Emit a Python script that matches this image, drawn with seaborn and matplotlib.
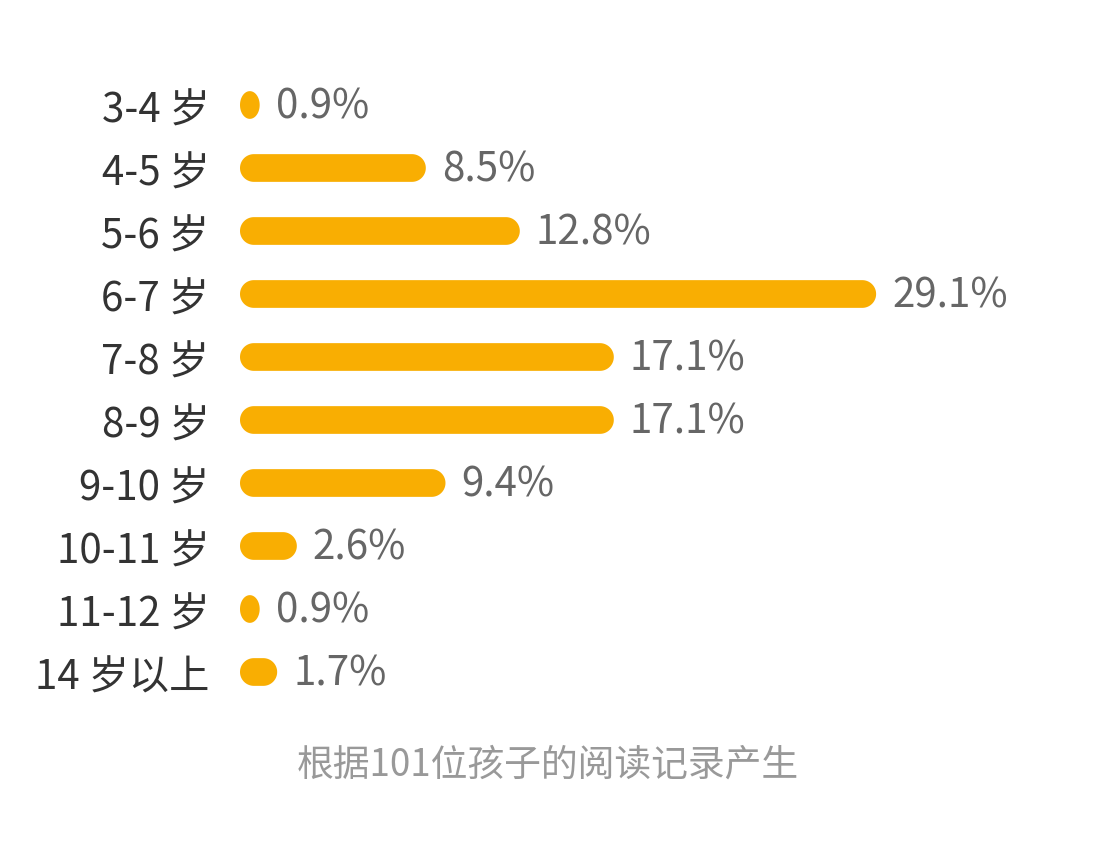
import matplotlib
matplotlib.use('Agg')
import matplotlib.pyplot as plt
import matplotlib.transforms as mtransforms
from matplotlib.patches import PathPatch
from matplotlib.path import Path
import numpy as np
import seaborn as sns
import pandas as pd

# data
ages = ['3-4 岁', '4-5 岁', '5-6 岁', '6-7 岁', '7-8 岁', '8-9 岁',
        '9-10 岁', '10-11 岁', '11-12 岁', '14 岁以上']
shares = [0.9, 8.5, 12.8, 29.1, 17.1, 17.1, 9.4, 2.6, 0.9, 1.7]
footer = '根据101位孩子的阅读记录产生'

df = pd.DataFrame({'age': ages, 'share': shares})

sns.set_theme(style='white')
plt.rcParams['font.family'] = ['Noto Sans CJK SC', 'DejaVu Sans']

W, H = 1099, 848
fig = plt.figure(figsize=(W / 100, H / 100), dpi=100)
ax_left, ax_w = 240, 800
ax_top, ax_bot = 73.5, 703.5
ax = fig.add_axes([ax_left / W, (H - ax_bot) / H, ax_w / W, (ax_bot - ax_top) / H])

bar_color = '#F9AE02'
sns.barplot(data=df, y='age', x='share', orient='h', color=bar_color,
            width=0.44, ax=ax, saturation=1)

px_per_unit = 21.86
xmax = ax_w / px_per_unit
ax.set_xlim(0, xmax)
ax.set_ylim(len(ages) - 0.5, -0.5)

# px per data unit
sx = ax_w / xmax
sy = (ax_bot - ax_top) / len(ages)


def pill(x, y, w, h):
    # rounded bar: elliptical ends, radius capped by half the width
    rx = min(w / 2, h * sy / sx / 2)
    ry = h / 2
    pts = []
    cx, cy = x + w - rx, y + h / 2
    for a in np.linspace(-np.pi / 2, np.pi / 2, 40):
        pts.append((cx + rx * np.cos(a), cy + ry * np.sin(a)))
    cx = x + rx
    for a in np.linspace(np.pi / 2, 3 * np.pi / 2, 40):
        pts.append((cx + rx * np.cos(a), cy + ry * np.sin(a)))
    pts.append(pts[0])
    return Path(pts, closed=True)


# swap the square bars for rounded ones
for p in list(ax.patches):
    path = pill(p.get_x(), p.get_y(), p.get_width(), p.get_height())
    p.remove()
    ax.add_patch(PathPatch(path, fc=bar_color, ec='none'))

for i, v in enumerate(shares):
    ax.text(v + 16 / sx, i + 2 / sy, f'{v}%', va='center', ha='left',
            fontsize=29, color='#666666')

ax.set_xlabel('')
ax.set_ylabel('')
ax.set_xticks([])
ax.tick_params(axis='y', length=0, pad=22, labelsize=29, labelcolor='#333333')
# nudge tick labels down a couple of pixels
shift = mtransforms.ScaledTranslation(0, -2 / 100, fig.dpi_scale_trans)
for lab in ax.get_yticklabels():
    lab.set_transform(lab.get_transform() + shift)
sns.despine(ax=ax, left=True, bottom=True)

fig.text(548 / W, 1 - 765 / H, footer, ha='center', va='center',
         fontsize=26.5, color='#999999')

fig.savefig('out.png', dpi=100, facecolor='white')
